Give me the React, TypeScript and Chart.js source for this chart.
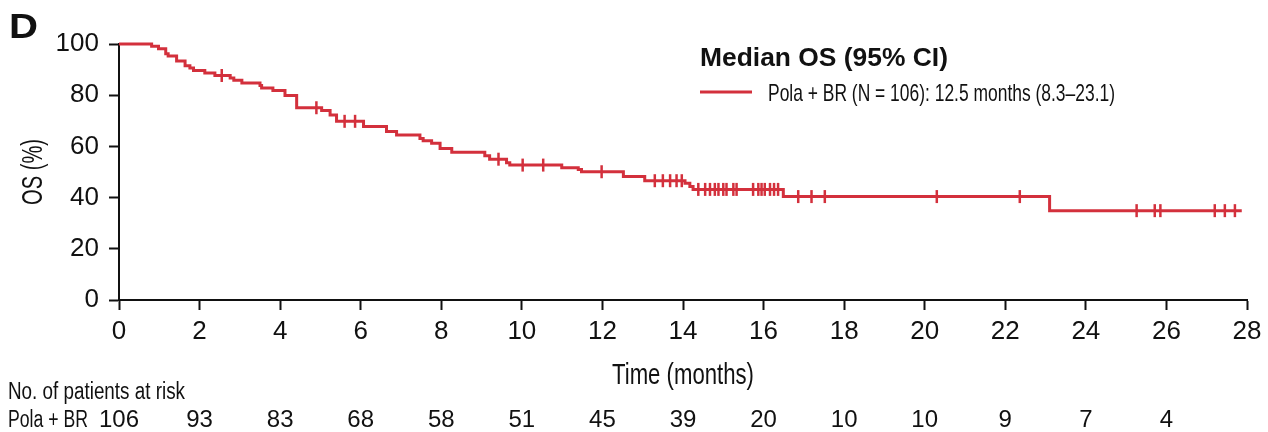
import React, { useEffect, useRef } from "react";
import { Chart, registerables } from "chart.js";

Chart.register(...registerables);

// Kaplan–Meier steps: month of each drop and the OS (%) just after it
const kmMonths = [0, 0.81, 0.98, 1.16, 1.22, 1.43, 1.64, 1.76, 1.85, 2.13, 2.38, 2.76, 2.85, 3.05, 3.5, 3.54, 3.82, 4.12, 4.41, 5.03, 5.24, 5.4, 6.07, 6.64, 6.89, 7.47, 7.55, 7.76, 7.97, 8.26, 9.08, 9.2, 9.62, 9.7, 10.99, 11.4, 11.48, 12.52, 13.05, 14.05, 14.17, 14.25, 16.49, 23.1];
const kmSurvival = [100, 99.1, 98.1, 96.2, 95.3, 93.4, 91.5, 90.6, 89.6, 88.7, 87.7, 86.7, 85.8, 84.8, 83.8, 82.8, 81.8, 79.9, 75.1, 74.0, 72.3, 69.8, 67.8, 65.8, 64.5, 63.1, 62.2, 61.2, 59.2, 57.7, 56.3, 55.0, 53.6, 52.7, 51.7, 51.0, 50.1, 48.2, 46.6, 45.6, 44.3, 43.2, 40.4, 34.9];
const lastFollowUp = 27.87;

// Censored patients (months)
const censorMonths = [2.55, 4.9, 5.6, 5.86, 9.42, 10.02, 10.53, 11.98, 13.3, 13.5, 13.68, 13.84, 13.97, 14.38, 14.55, 14.67, 14.79, 14.88, 15.0, 15.08, 15.25, 15.33, 15.74, 15.87, 15.95, 16.03, 16.16, 16.26, 16.36, 16.86, 17.19, 17.52, 20.3, 22.36, 25.26, 25.71, 25.85, 27.2, 27.45, 27.7];

// Number at risk table
const riskMonths = [0, 2, 4, 6, 8, 10, 12, 14, 16, 18, 20, 22, 24, 26];
const riskCounts = [106, 93, 83, 68, 58, 51, 45, 39, 20, 10, 10, 9, 7, 4];

const armName = "Pola + BR";
const panelLetter = "D";
const legendTitle = "Median OS (95% CI)";
const legendLabel = "Pola + BR (N = 106): 12.5 months (8.3\u201323.1)";
const xTitle = "Time (months)";
const yTitle = "OS (%)";
const riskTitle = "No. of patients at risk";

const RED = "#d3303c";
const INK = "#111111";
const SANS = "'Liberation Sans', Arial, Helvetica, sans-serif";

function survivalAt(t: number): number {
  let s = kmSurvival[0];
  for (let i = 0; i < kmMonths.length; i++) {
    if (kmMonths[i] <= t) s = kmSurvival[i];
  }
  return s;
}

// Draws text, optionally squeezed horizontally to a given width
function paint(
  ctx: CanvasRenderingContext2D,
  text: string,
  x: number,
  y: number,
  font: string,
  align: "left" | "center" | "right",
  width?: number,
  color: string = INK
) {
  ctx.save();
  ctx.font = font;
  ctx.fillStyle = color;
  ctx.textBaseline = "alphabetic";
  ctx.textAlign = "left";
  const w = ctx.measureText(text).width;
  const sx = width ? width / w : 1;
  const dw = w * sx;
  let left = x;
  if (align === "center") left = x - dw / 2;
  else if (align === "right") left = x - dw;
  ctx.translate(left, y);
  ctx.scale(sx, 1);
  ctx.fillText(text, 0, 0);
  ctx.restore();
}

const annotations = {
  id: "kmAnnotations",
  afterDraw(chart: any) {
    const ctx: CanvasRenderingContext2D = chart.ctx;
    const area = chart.chartArea;
    const xs = chart.scales.x;
    const cx = (area.left + area.right) / 2;
    const cy = (area.top + area.bottom) / 2;

    // panel letter
    paint(ctx, panelLetter, 9, 38, `bold 35px ${SANS}`, "left", 29);

    // y axis title (rotated)
    ctx.save();
    ctx.translate(42, cy);
    ctx.rotate(-Math.PI / 2);
    paint(ctx, yTitle, 0, 0, `29px ${SANS}`, "center", 66);
    ctx.restore();

    // x axis title
    paint(ctx, xTitle, cx, 384, `29px ${SANS}`, "center", 142);

    // legend
    paint(ctx, legendTitle, 700, 66, `bold 25px ${SANS}`, "left", 248);
    ctx.save();
    ctx.strokeStyle = RED;
    ctx.lineWidth = 3;
    ctx.beginPath();
    ctx.moveTo(700, 92);
    ctx.lineTo(752, 92);
    ctx.stroke();
    ctx.restore();
    paint(ctx, legendLabel, 768, 101, `24px ${SANS}`, "left", 347);

    // number at risk
    paint(ctx, riskTitle, 8, 399, `23px ${SANS}`, "left", 177);
    paint(ctx, armName, 8, 427, `23px ${SANS}`, "left", 80);
    riskMonths.forEach((m, i) => {
      paint(ctx, String(riskCounts[i]), xs.getPixelForValue(m), 427, `24px ${SANS}`, "center");
    });
  },
};

export default function App() {
  const canvasRef = useRef<HTMLCanvasElement | null>(null);

  useEffect(() => {
    const canvas = canvasRef.current;
    if (!canvas) return;

    const curve = kmMonths.map((m, i) => ({ x: m, y: kmSurvival[i] }));
    curve.push({ x: lastFollowUp, y: kmSurvival[kmSurvival.length - 1] });
    const censors = censorMonths.map((m) => ({ x: m, y: survivalAt(m) }));

    const axisGrid = {
      display: true,
      drawOnChartArea: false,
      drawTicks: true,
      tickLength: 10,
      tickWidth: 2,
      tickColor: INK,
    };

    const chart = new Chart(canvas, {
      type: "line",
      data: {
        datasets: [
          {
            label: armName,
            data: curve,
            stepped: "before",
            borderColor: RED,
            borderWidth: 3,
            pointRadius: 0,
            fill: false,
            clip: false,
          } as any,
          {
            label: "censored",
            data: censors,
            showLine: false,
            pointStyle: "line",
            rotation: 90,
            pointRadius: 6.5,
            pointBorderWidth: 2.5,
            pointBorderColor: RED,
            pointBackgroundColor: RED,
            borderColor: RED,
            clip: false,
          } as any,
        ],
      },
      options: {
        animation: false,
        responsive: false,
        events: [],
        layout: { padding: { left: 0, top: 44, right: 21, bottom: 0 } },
        plugins: { legend: { display: false }, tooltip: { enabled: false } },
        scales: {
          x: {
            type: "linear",
            min: 0,
            max: 28,
            afterFit: (s: any) => {
              s.height = 132;
            },
            grid: axisGrid,
            border: { display: true, color: INK, width: 2 },
            ticks: {
              stepSize: 2,
              color: INK,
              padding: 6,
              maxRotation: 0,
              font: { family: SANS, size: 26 },
            },
          },
          y: {
            type: "linear",
            min: 0,
            max: 100,
            afterFit: (s: any) => {
              s.width = 119;
            },
            grid: axisGrid,
            border: { display: true, color: INK, width: 2 },
            ticks: {
              stepSize: 20,
              color: INK,
              padding: 10,
              font: { family: SANS, size: 26 },
            },
          },
        },
      },
      plugins: [annotations],
    });

    return () => chart.destroy();
  }, []);

  return (
    <div style={{ position: "fixed", left: 0, top: 0, width: 1268, height: 432, background: "#fff" }}>
      <canvas ref={canvasRef} width={1268} height={432} style={{ display: "block" }} />
    </div>
  );
}
